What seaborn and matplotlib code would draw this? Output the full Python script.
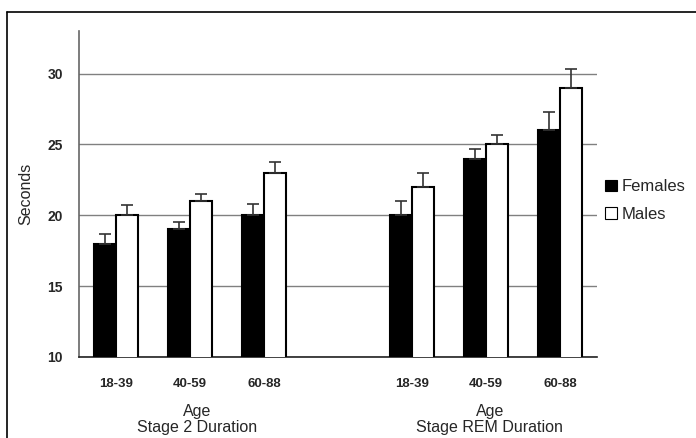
import numpy as np
import pandas as pd
import matplotlib
matplotlib.use('Agg')
import matplotlib.pyplot as plt
import seaborn as sns
from matplotlib.lines import Line2D

# Data
categories = ["s2_18", "s2_40", "s2_60", "gap", "rem_18", "rem_40", "rem_60"]
tick_labels = ["18-39", "40-59", "60-88", "", "18-39", "40-59", "60-88"]
data_categories = ["s2_18", "s2_40", "s2_60", "rem_18", "rem_40", "rem_60"]
females = [18, 19, 20, 20, 24, 26]
males = [20, 21, 23, 22, 25, 29]
females_err = [0.7, 0.5, 0.8, 1.0, 0.7, 1.3]
males_err = [0.7, 0.5, 0.75, 1.0, 0.65, 1.3]
group_titles = ["Age\nStage 2 Duration", "Age\nStage REM Duration"]

sns.set_style("white")
plt.rcParams['font.family'] = ['Liberation Sans', 'DejaVu Sans']

df = pd.DataFrame({
    'category': data_categories * 2,
    'sex': ['Females'] * len(females) + ['Males'] * len(males),
    'seconds': females + males,
})

fig = plt.figure(figsize=(6.96, 4.38), dpi=100)
ax = fig.add_axes([79 / 696, 1 - 357 / 438, (597 - 79) / 696, (357 - 31) / 438])

sns.barplot(data=df, x='category', y='seconds', hue='sex', order=categories,
            hue_order=['Females', 'Males'], palette=['black', 'white'],
            edgecolor='black', linewidth=1.5, width=0.6, errorbar=None,
            saturation=1, ax=ax, zorder=3)

# upper-only error bars
for cont, errs in zip(ax.containers, [females_err, males_err]):
    for bar, e in zip(cont, errs):
        cx = bar.get_x() + bar.get_width() / 2
        h = bar.get_height()
        ax.errorbar(cx, h, yerr=[[0], [e]], color='#333333', elinewidth=1.2,
                    capsize=4, capthick=1.2, zorder=4)

ax.set_ylim(10, 33)
ax.set_xlim(-0.5, len(categories) - 0.5)
ax.set_yticks([10, 15, 20, 25, 30])
ax.yaxis.grid(True, color='#808080', linewidth=1)
ax.set_axisbelow(True)

ax.set_xticks(range(len(categories)))
ax.set_xticklabels(tick_labels, fontweight='bold', fontsize=9.5)
ax.set_xticks(np.arange(-0.5, len(categories)), minor=True)
ax.tick_params(axis='x', which='major', length=0, pad=15)
ax.tick_params(axis='x', which='minor', length=7, direction='inout', color='#444444', width=1)
ax.tick_params(axis='y', length=7, direction='inout', color='#555555', width=1, pad=8,
               labelsize=10)
for lab in ax.get_yticklabels():
    lab.set_fontweight('bold')

ax.set_xlabel('')
ax.set_ylabel('Seconds', fontsize=11.5, labelpad=10)

for s in ['top', 'right']:
    ax.spines[s].set_visible(False)
ax.spines['left'].set_color('#666666')
ax.spines['bottom'].set_color('#222222')
ax.spines['left'].set_linewidth(1.2)
ax.spines['bottom'].set_linewidth(1.2)

for xc, title in zip([1.09, 5.05], group_titles):
    ax.text(xc, -0.145, title, transform=ax.get_xaxis_transform(), ha='center',
            va='top', fontsize=11.5, linespacing=1.1)

leg = ax.legend(loc='center left', bbox_to_anchor=(1.0, 0.48), frameon=False,
                fontsize=12, handlelength=0.7, handleheight=0.7,
                handletextpad=0.3, labelspacing=0.75, borderaxespad=0.1)
for p in leg.get_patches():
    p.set_linewidth(0.8)

# outer frame (left and top edges)
fig.add_artist(Line2D([7 / 696, 7 / 696], [0, 1 - 12 / 438], color='black', lw=1.2,
                      transform=fig.transFigure))
fig.add_artist(Line2D([7 / 696, 1.0], [1 - 12 / 438, 1 - 12 / 438], color='black', lw=1.2,
                      transform=fig.transFigure))

fig.savefig('out.png', dpi=100)
plt.close(fig)
